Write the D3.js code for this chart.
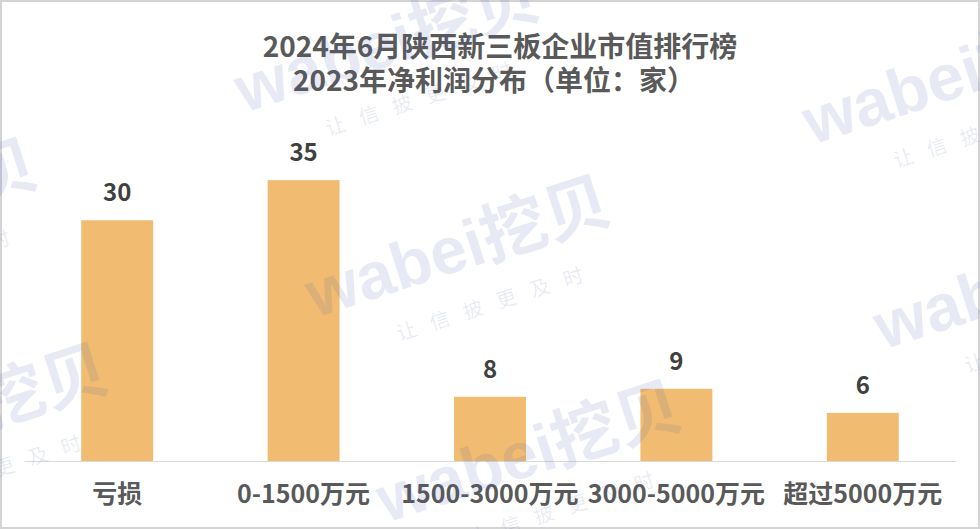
<!DOCTYPE html>
<html><head><meta charset="utf-8">
<script src="https://cdn.jsdelivr.net/npm/d3@7"></script>
<style>html,body{margin:0;padding:0;background:#fff;}svg{display:block;}</style>
</head><body>
<script>
const titleLines = ["2024年6月陕西新三板企业市值排行榜", "2023年净利润分布（单位：家）"];
const categories = ["亏损", "0-1500万元", "1500-3000万元", "3000-5000万元", "超过5000万元"];
const values = [30, 35, 8, 9, 6];
const watermarkText = "wabei挖贝";
const watermarkTag = "让信披更及时";
const watermarkOrigins = [[315, 318], [244, 113], [812, 145], [741, -60], [-258, 281], [-187, 486], [386, 523], [883, 350]];

const W = 980, H = 529;
const svg = d3.select("body").append("svg").attr("width", W).attr("height", H);
svg.append("rect").attr("x", 1).attr("y", 1).attr("width", W - 2).attr("height", H - 2)
  .attr("fill", "#fff").attr("stroke", "#d4d4d4").attr("stroke-width", 2);

const font = "'Noto Sans CJK SC','Noto Sans',sans-serif";
const x = d3.scaleBand().domain(categories).range([24, 956]).paddingInner(0.614).paddingOuter(0.307);
const y = d3.scaleLinear().domain([0, 40]).range([461, 140]);

// baseline axis
const xAxis = d3.axisBottom(x).tickSize(0).tickPadding(0).tickFormat("");
const ax = svg.append("g").attr("transform", `translate(0,${y(0)})`).call(xAxis);
ax.select(".domain").attr("stroke", "#d9d9d9").attr("stroke-width", 1.2);

svg.append("g").selectAll("rect").data(values).join("rect")
  .attr("x", (d, i) => x(categories[i])).attr("width", x.bandwidth())
  .attr("y", d => y(d)).attr("height", d => y(0) - y(d))
  .attr("fill", "#F1BC71");

svg.append("g").selectAll("text").data(values).join("text")
  .attr("x", (d, i) => x(categories[i]) + x.bandwidth() / 2)
  .attr("y", d => y(d) - 19)
  .attr("text-anchor", "middle").attr("font-family", font).attr("font-weight", "bold")
  .attr("font-size", 24).attr("fill", "#404040").text(d => d);

svg.append("g").selectAll("text").data(categories).join("text")
  .attr("x", d => x(d) + x.bandwidth() / 2).attr("y", 503)
  .attr("text-anchor", "middle").attr("font-family", font).attr("font-weight", "bold")
  .attr("font-size", 25).attr("fill", "#595959").text(d => d);

svg.append("g").selectAll("text").data(titleLines).join("text")
  .attr("x", (d, i) => i === 0 ? 500 : 494).attr("y", (d, i) => 57 + i * 34)
  .attr("text-anchor", "middle").attr("font-family", font).attr("font-weight", "bold")
  .attr("font-size", 28).attr("fill", "#595959").text(d => d);

// watermark
const wm = svg.append("g").attr("pointer-events", "none");
watermarkOrigins.forEach(([ox, oy]) => {
  const g = wm.append("g").attr("transform", `translate(${ox},${oy}) rotate(-18)`);
  g.append("text").attr("x", 0).attr("y", 0)
    .attr("font-family", "'Liberation Sans','Noto Sans CJK SC',sans-serif").attr("font-weight", "bold")
    .attr("font-size", 66).attr("fill", "rgb(70,90,170)").attr("fill-opacity", 0.13).text(watermarkText);
  g.append("text").attr("x", 73).attr("y", 48)
    .attr("font-family", "'Noto Sans CJK SC',sans-serif")
    .attr("font-size", 20).attr("letter-spacing", 15)
    .attr("fill", "rgb(70,90,170)").attr("fill-opacity", 0.13).text(watermarkTag);
});
</script>
</body></html>
